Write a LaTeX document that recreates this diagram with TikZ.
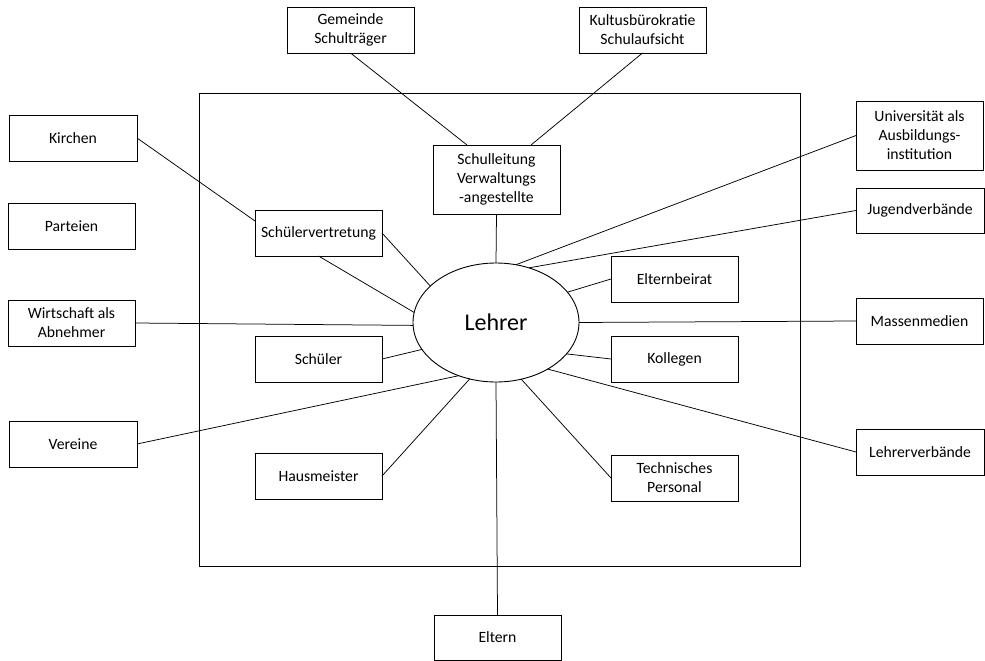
\documentclass[tikz,border=0pt]{standalone}
\usepackage{fontspec}
\setmainfont{Carlito}
\usetikzlibrary{shapes.geometric,calc}
\tikzset{
  box/.style={draw, line width=0.9pt, rectangle, inner sep=0pt, outer sep=0pt,
    minimum width=127pt, minimum height=46pt, align=center,
    font=\fontsize{15.7}{19}\selectfont},
  tallbox/.style={box, minimum height=69pt},
  conn/.style={line width=0.75pt},
  frame/.style={draw, line width=1pt}
}
\begin{document}
\begin{tikzpicture}[x=1pt,y=-1pt]
\useasboundingbox (0,0) rectangle (985,661);
\draw[frame] (199,93) rectangle (800,566);
\node[draw, ellipse, line width=0.9pt, inner sep=0pt, outer sep=0pt, minimum width=166pt, minimum height=119pt, fill=white, font=\fontsize{24}{28}\selectfont] (L) at (496,322.5) {Lehrer};
\node[box] (gem) at (350.5,30) {Gemeinde\\Schulträger};
\node[box] (kul) at (642.5,30) {Kultusbürokratie\\Schulaufsicht};
\node[box, minimum width=128pt] (kir) at (73,138) {Kirchen};
\node[box] (par) at (71.5,226) {Parteien};
\node[box] (wi) at (71.5,323) {Wirtschaft als\\Abnehmer};
\node[box, minimum width=128pt] (ver) at (73,444) {Vereine};
\node[tallbox] (sl) at (496.5,179.5) {Schulleitung\\Verwaltungs\\-angestellte};
\node[box] (sv) at (318.5,233) {Schülervertretung};
\node[box] (sch) at (318.5,359) {Schüler};
\node[box] (hm) at (318.5,476) {Hausmeister};
\node[box] (eb) at (674.5,279) {Elternbeirat};
\node[box] (kol) at (674.5,359) {Kollegen};
\node[box] (tp) at (674.5,478) {Technisches\\Personal};
\node[tallbox] (uni) at (919.5,135.5) {Universität als\\Ausbildungs-\\institution};
\node[box, minimum width=128pt, minimum height=45pt] (jug) at (920,210.5) {Jugendverbände};
\node[box] (mm) at (919.5,321) {Massenmedien};
\node[box, minimum width=128pt] (lv) at (920,452) {Lehrerverbände};
\node[box, minimum height=45pt] (elt) at (497.5,637.5) {Eltern};
% connectors
\draw[conn] (kir.east) -- ($(sv.north west)+(0,11)$);
\draw[conn] (gem.south) -- ($(sl.north west)+(34,0)$);
\draw[conn] (kul.south) -- ($(sl.north east)+(-29,0)$);
\draw[conn] (sv.east) -- (L.151.7);
\draw[conn] (sv.south) -- (L.173.4);
\draw[conn] (sl.south) -- (L.north);
\draw[conn] (wi.east) -- (L.182.4);
\draw[conn] (uni.west) -- (L.71.7);
\draw[conn] (jug.west) -- (L.59.3);
\draw[conn] (eb.west) -- (L.23.6);
\draw[conn] (L.east) -- (mm.west);
\draw[conn] (sch.east) -- (L.200.1);
\draw[conn] (ver.east) -- (L.235.1);
\draw[conn] (hm.east) -- (L.245.7);
\draw[conn] (L.south) -- (elt.north);
\draw[conn] (kol.west) -- (L.336.4);
\draw[conn] (lv.west) -- (L.318.7);
\draw[conn] (tp.west) -- (L.294.8);
\end{tikzpicture}
\end{document}
